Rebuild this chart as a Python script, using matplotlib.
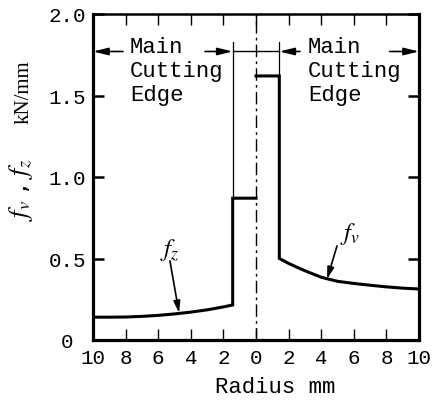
import matplotlib
matplotlib.use("Agg")
import matplotlib.pyplot as plt
import numpy as np

# ---- data ----
left_r = [-10, -9, -8, -7, -6, -5, -4, -3, -2, -1.43]
fz = [0.14, 0.14, 0.141, 0.145, 0.151, 0.16, 0.171, 0.185, 0.203, 0.215]
inner_left_r = [-1.43, 0]
fz_inner = [0.87, 0.87]
inner_right_r = [0, 1.43]
fv_inner = [1.62, 1.62]
right_r = [1.43, 2, 2.5, 3, 3.5, 4, 5, 6, 7, 8, 9, 10]
fv = [0.50, 0.47, 0.447, 0.425, 0.405, 0.385, 0.36, 0.347, 0.336, 0.326, 0.318, 0.313]

xticks = [-10, -8, -6, -4, -2, 0, 2, 4, 6, 8, 10]
xticklabels = ["10", "8", "6", "4", "2", "0", "2", "4", "6", "8", "10"]
yticks = [0, 0.5, 1.0, 1.5, 2.0]
yticklabels = ["0 ", "0.5", "1.0", "1.5", "2.0"]

MONO = "Liberation Mono"
SERIF = "Liberation Serif"
plt.rcParams["mathtext.fontset"] = "stix"

fig = plt.figure(figsize=(4.32, 4.02), dpi=100)
ax = fig.add_axes([93/432, 61/402, 326/432, 326/402])
ax.set_xlim(-10, 10)
ax.set_ylim(0, 2.0)

for s in ax.spines.values():
    s.set_linewidth(2.3)
ax.spines["top"].set_linewidth(1.8)

# curves
ax.plot(left_r + inner_left_r, fz + fz_inner, color="k", lw=2.2, solid_joinstyle="miter")
ax.plot(inner_right_r + right_r, fv_inner + fv, color="k", lw=2.2, solid_joinstyle="miter")

# center line
ax.axvline(0, color="k", lw=1.0, ls=(0, (9, 3, 2, 3)))

# extension lines & dimension line
ax.plot([-1.43, -1.43], [0.87, 1.83], color="k", lw=0.9)
ax.plot([1.43, 1.43], [1.62, 1.83], color="k", lw=0.9)
ax.plot([-1.43, 1.43], [1.77, 1.77], color="k", lw=1.0)

ap = dict(arrowstyle="-|>,head_length=0.9,head_width=0.22", lw=1.2, color="k",
          shrinkA=0, shrinkB=0)
for tail, head in [(-8.16, -10), (-3.13, -1.43), (2.7, 1.43), (8.2, 10)]:
    ax.annotate("", xy=(head, 1.77), xytext=(tail, 1.77), arrowprops=ap)

ax.text(-7.73, 1.865, "Main\nCutting\nEdge", family=MONO, fontsize=16,
        va="top", ha="left", linespacing=1.2)
ax.text(3.19, 1.865, "Main\nCutting\nEdge", family=MONO, fontsize=16,
        va="top", ha="left", linespacing=1.2)

# curve labels
ax.text(-5.28, 0.557, r"$f_z$", fontsize=18, ha="center", va="center")
ax.text(5.77, 0.656, r"$f_v$", fontsize=18, ha="center", va="center")
ap2 = dict(arrowstyle="-|>,head_length=0.7,head_width=0.2", lw=1.2, color="k",
           shrinkA=0, shrinkB=0)
ax.annotate("", xy=(-4.72, 0.166), xytext=(-5.28, 0.485), arrowprops=ap2)
ax.annotate("", xy=(4.36, 0.374), xytext=(4.97, 0.577), arrowprops=ap2)

# ticks
ax.set_xticks(xticks)
ax.set_xticklabels(xticklabels, family=MONO, fontsize=15)
ax.set_yticks(yticks)
ax.set_yticklabels(yticklabels, family=MONO, fontsize=15)
ax.tick_params(axis="x", direction="in", length=8, width=1.0, top=True, pad=6)
ax.tick_params(axis="y", direction="in", length=8, width=1.8, right=True, pad=5)

# axis labels
fig.text(275/432, 1 - 388/402, "Radius mm", family=MONO, fontsize=16,
         ha="center", va="center")
fig.text(24/432, 1 - 92/402, "kN/mm", family=SERIF, fontsize=15,
         rotation=90, ha="center", va="center")
fig.text(21/432, 1 - 190/402, r"$f_v$ , $f_z$", fontsize=19,
         rotation=90, ha="center", va="center")

fig.savefig("out.png", dpi=100)
